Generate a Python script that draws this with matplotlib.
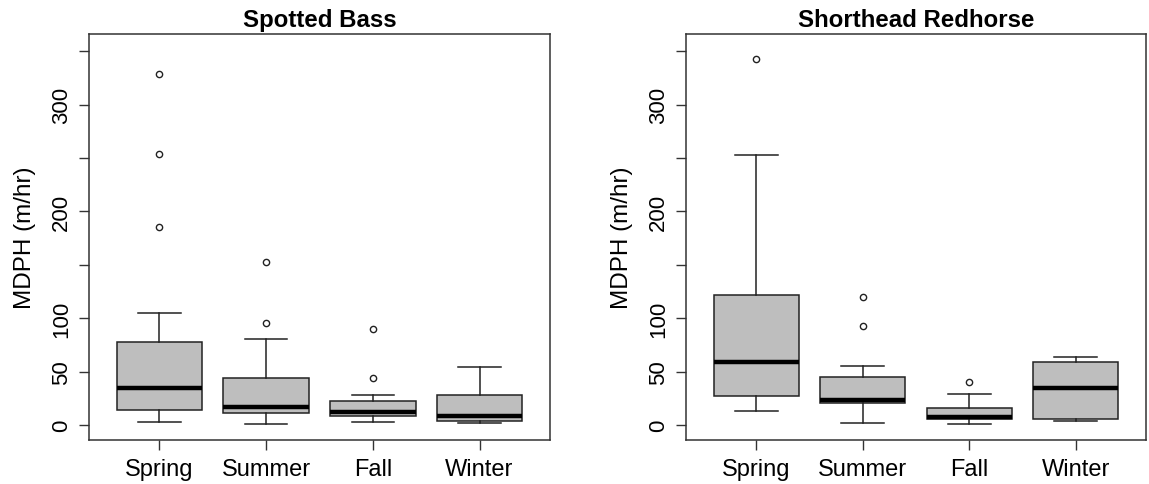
import numpy as np
import matplotlib
matplotlib.use("Agg")
import matplotlib.pyplot as plt

plt.rcParams['font.family'] = ['Liberation Sans', 'DejaVu Sans']

seasons = ["Spring", "Summer", "Fall", "Winter"]

# Spotted Bass (m/hr)
bass_whislo = [3.1, 0.6, 3.1, 1.6]
bass_q1 = [14.5, 10.9, 8.7, 4.1]
bass_med = [35.0, 17.2, 12.5, 8.1]
bass_q3 = [77.4, 44.0, 22.5, 28.1]
bass_whishi = [104.7, 80.5, 28.1, 54.3]
bass_fliers = [[329.0, 254.0, 185.3], [152.2, 95.4], [89.8, 44.0], []]

# Shorthead Redhorse (m/hr)
redhorse_whislo = [13.4, 1.9, 0.6, 4.1]
redhorse_q1 = [27.1, 20.3, 5.6, 5.3]
redhorse_med = [59.3, 23.7, 7.2, 34.3]
redhorse_q3 = [121.9, 45.2, 15.6, 58.6]
redhorse_whishi = [253.0, 55.5, 29.3, 63.3]
redhorse_fliers = [[342.5], [119.5, 92.9], [40.5], []]

ytick_vals = [0, 50, 100, 150, 200, 250, 300, 350]
ytick_labels = ["0", "50", "100", "", "200", "", "300", ""]


def make_stats(whislo, q1, med, q3, whishi, fliers):
    stats = []
    for i in range(len(med)):
        stats.append(dict(whislo=whislo[i], q1=q1[i], med=med[i], q3=q3[i],
                          whishi=whishi[i], fliers=fliers[i]))
    return stats


def draw_panel(ax, stats, title):
    ax.bxp(stats, positions=np.arange(1, len(stats) + 1), widths=0.8,
           patch_artist=True, showfliers=True,
           boxprops=dict(facecolor="#bebebe", edgecolor="#222222", linewidth=1.1),
           whiskerprops=dict(color="#222222", linewidth=1.1),
           capprops=dict(color="#222222", linewidth=1.1),
           medianprops=dict(color="black", linewidth=3.2, solid_capstyle="butt"),
           flierprops=dict(marker="o", markerfacecolor="none", markeredgecolor="#222222",
                           markersize=4.5, markeredgewidth=1.0))
    # R style: range 0.5..4.5 padded by 4%
    ax.set_xlim(0.34, 4.66)
    ax.set_ylim(-14, 366)
    ax.set_xticks(np.arange(1, len(seasons) + 1))
    ax.set_xticklabels(seasons, fontsize=17)
    ax.set_yticks(ytick_vals)
    ax.set_yticklabels(ytick_labels, fontsize=16, rotation=90, va="center")
    ax.tick_params(direction="out", length=7.2, width=1, color="#333333", pad=5)
    ax.tick_params(axis="x", pad=6)
    ax.set_ylabel("MDPH (m/hr)", fontsize=17.5, labelpad=11)
    ax.set_title(title, fontsize=17.3, fontweight="bold", pad=6)
    for sp in ax.spines.values():
        sp.set_color("#333333")
        sp.set_linewidth(1.1)


fig = plt.figure(figsize=(11.49, 4.85), dpi=100)
W, H = 1149, 485
ax1 = fig.add_axes([89 / W, (H - 441) / H, (550 - 89) / W, (441 - 35) / H])
ax2 = fig.add_axes([686 / W, (H - 441) / H, (1146 - 686) / W, (441 - 35) / H])

draw_panel(ax1, make_stats(bass_whislo, bass_q1, bass_med, bass_q3, bass_whishi, bass_fliers),
           "Spotted Bass")
draw_panel(ax2, make_stats(redhorse_whislo, redhorse_q1, redhorse_med, redhorse_q3,
                           redhorse_whishi, redhorse_fliers),
           "Shorthead Redhorse")

fig.savefig("out.png", dpi=100)
